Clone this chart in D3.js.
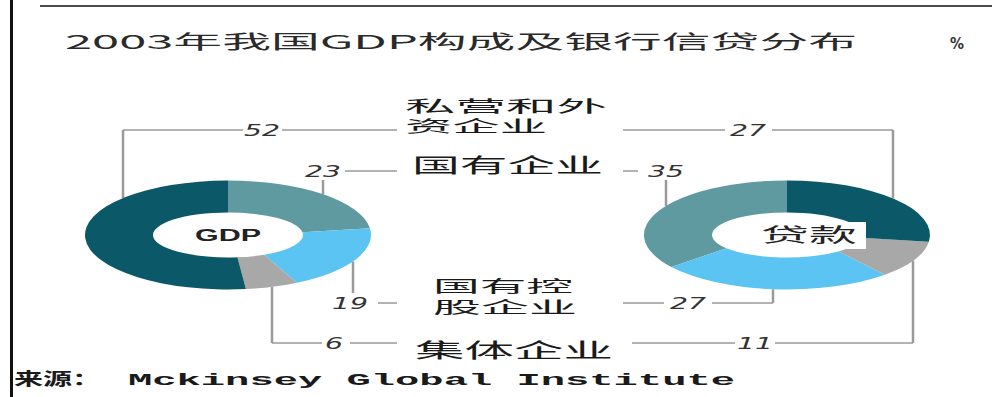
<!DOCTYPE html>
<html>
<head>
<meta charset="utf-8">
<script src="https://cdn.jsdelivr.net/npm/d3@7"></script>
<style>
  html, body { margin: 0; padding: 0; background: #fff; }
  svg { display: block; }
</style>
</head>
<body>
<svg id="chart"></svg>
<script>
;(() => {

    // categories, in clockwise order for the GDP ring
    const categories = ['国有企业', '国有控股企业', '集体企业', '私营和外资企业'];
    // how the category name is broken on the middle labels
    const categoryLines = [['国有企业'], ['国有控', '股企业'], ['集体企业'], ['私营和外', '资企业']];
    const gdpValues = [23, 19, 6, 52];
    const loanValues = [35, 27, 11, 27];
    const colors = ['#5e9aa0', '#5bc4f2', '#a8a8a8', '#0b5868'];

    const titleText = '2003年我国GDP构成及银行信贷分布';
    const unitText = '%';
    const sourceLabel = '来源：';
    const sourceName = 'Mckinsey  Global Institute';

    const width = 992;
    const height = 397;
    const lineColor = '#9a9a9a';
    const cjk = '"Noto Sans CJK SC", "Noto Sans", sans-serif';

    // ring geometry (the picture is stretched sideways, so the rings are ellipses)
    const ring = { rxo: 143, ryo: 54.5, rxi: 75, ryi: 22.5 };
    const gdpCenter = [228, 235];
    const loanCenter = [787, 235];

    // y of each category's row of connectors
    const rowY = [171, 303, 343, 130];
    // middle labels: left x, line centres, widths
    const midLabels = [
        { x: 412, cy: [165], w: [191] },
        { x: 433, cy: [286, 307], w: [140, 144] },
        { x: 405, cy: [106, 126], w: [202, 142] }
    ];
    midLabels.splice(2, 0, { x: 415, cy: [350], w: [198] });
    const midLeft = 397;
    const midRight = 623;

    const svg = d3.select('#chart')
        .attr('width', width)
        .attr('height', height);

    // frame lines
    svg.append('line')
        .attr('x1', 11.5).attr('x2', 11.5).attr('y1', 0).attr('y2', height)
        .attr('stroke', '#111').attr('stroke-width', 3);
    svg.append('line')
        .attr('x1', 40).attr('x2', width).attr('y1', 6).attr('y2', 6)
        .attr('stroke', '#111').attr('stroke-width', 1.6);

    // stretched text helper: font size sets height, textLength sets width
    function stretchedText(txt, x, baseline, size, len, opts) {
        opts = opts || {};
        return svg.append('text')
            .attr('x', x)
            .attr('y', baseline)
            .attr('font-family', opts.family || cjk)
            .attr('font-size', size)
            .attr('font-weight', opts.weight || 'normal')
            .attr('font-style', opts.style || 'normal')
            .attr('fill', opts.fill || '#1a1a1a')
            .attr('textLength', len)
            .attr('lengthAdjust', 'spacingAndGlyphs')
            .attr('text-anchor', opts.anchor || 'start')
            .text(txt);
    }

    stretchedText(titleText, 65, 49, 19, 792, { fill: '#2a2a2a' });
    stretchedText(unitText, 950, 49, 15, 14, { family: '"DejaVu Sans", sans-serif', weight: 'bold', fill: '#333' });
    stretchedText(sourceLabel, 14, 385, 17, 87, { weight: 'bold' });
    stretchedText(sourceName, 128, 385, 17, 607,
        { family: '"Liberation Mono", monospace', weight: 'bold' });

    // elliptical ring slice from pie angles
    function slicePath(d) {
        const a0 = d.startAngle, a1 = d.endAngle;
        const large = Math.abs(a1 - a0) > Math.PI ? 1 : 0;
        const sweep = a1 > a0 ? 1 : 0;
        const pt = (rx, ry, a) => [rx * Math.sin(a), -ry * Math.cos(a)];
        const o0 = pt(ring.rxo, ring.ryo, a0), o1 = pt(ring.rxo, ring.ryo, a1);
        const i0 = pt(ring.rxi, ring.ryi, a0), i1 = pt(ring.rxi, ring.ryi, a1);
        return 'M' + o0 + 'A' + ring.rxo + ',' + ring.ryo + ' 0 ' + large + ' ' + sweep + ' ' + o1 +
            'L' + i1 + 'A' + ring.rxi + ',' + ring.ryi + ' 0 ' + large + ' ' + (1 - sweep) + ' ' + i0 + 'Z';
    }

    // y of the ring's outer edge at a given x offset (top or bottom)
    function edgeY(center, dx, side) {
        const t = Math.max(0, 1 - (dx / ring.rxo) * (dx / ring.rxo));
        return center[1] + side * ring.ryo * Math.sqrt(t);
    }

    function drawRing(values, center, endAngle) {
        const pie = d3.pie().sort(null).startAngle(0).endAngle(endAngle);
        const g = svg.append('g')
            .attr('transform', 'translate(' + center[0] + ',' + center[1] + ')');
        g.selectAll('path')
            .data(pie(values))
            .enter()
            .append('path')
            .attr('d', slicePath)
            .attr('fill', (d, i) => colors[i]);
        return g;
    }

    function hline(x1, x2, y) {
        svg.append('line')
            .attr('x1', x1).attr('x2', x2).attr('y1', y).attr('y2', y)
            .attr('stroke', lineColor).attr('stroke-width', 1.5);
    }
    function vline(x, y1, y2) {
        svg.append('line')
            .attr('x1', x).attr('x2', x).attr('y1', y1).attr('y2', y2)
            .attr('stroke', lineColor).attr('stroke-width', 2.5);
    }
    function numLabel(v, cx, cy) {
        const s = String(v);
        stretchedText(s, cx, cy + 5.5, 15, 18 * s.length,
            { family: '"DejaVu Sans", sans-serif', style: 'italic', anchor: 'middle', fill: '#333' });
    }

    // connectors drawn behind the rings
    // GDP side
    // 私营和外资企业: elbow up from the ring, number on the row
    {
        const i = 3, x = gdpCenter[0] - 105, y = rowY[i];
        vline(x, y, edgeY(gdpCenter, -105, -1));
        hline(x, 243, y); numLabel(gdpValues[i], 262, y); hline(282, midLeft, y);
    }
    // 国有企业: number sits on a short tick
    {
        const i = 0, x = gdpCenter[0] + 95, y = rowY[i];
        vline(x, 180, edgeY(gdpCenter, 95, -1));
        numLabel(gdpValues[i], x, y); hline(345, midLeft, y);
    }
    // 国有控股企业
    {
        const i = 1, x = gdpCenter[0] + 125, y = rowY[i];
        vline(x, edgeY(gdpCenter, 125, 1), 293);
        numLabel(gdpValues[i], 350, y); hline(378, midLeft, y);
    }
    // 集体企业
    {
        const i = 2, x = gdpCenter[0] + 44, y = rowY[i];
        vline(x, edgeY(gdpCenter, 44, 1), y);
        hline(x, 322, y); numLabel(gdpValues[i], 334, y); hline(350, midLeft, y);
    }

    // loan side
    {
        const i = 3, x = loanCenter[0] + 106, y = rowY[i];
        vline(x, y, edgeY(loanCenter, 106, -1));
        hline(midRight, 725, y); numLabel(loanValues[i], 748, y); hline(772, x, y);
    }
    {
        const i = 0, x = loanCenter[0] - 121, y = rowY[i];
        vline(x, 180, edgeY(loanCenter, -121, -1));
        hline(midRight, 638, y); numLabel(loanValues[i], 666, y);
    }
    {
        const i = 1, x = loanCenter[0] - 14, y = rowY[i];
        vline(x, edgeY(loanCenter, -14, 1), y);
        hline(midRight, 664, y); numLabel(loanValues[i], 688, y); hline(712, x, y);
    }
    {
        const i = 2, x = loanCenter[0] + 126, y = rowY[i];
        vline(x, edgeY(loanCenter, 126, 1), y);
        hline(midRight + 9, 735, y); numLabel(loanValues[i], 755, y); hline(775, x, y);
    }

    drawRing(gdpValues, gdpCenter, 2 * Math.PI);
    drawRing(loanValues, loanCenter, -2 * Math.PI);

    // centre labels
    stretchedText('GDP', gdpCenter[0], gdpCenter[1] + 6, 16, 66,
        { family: '"Liberation Sans", Arial, sans-serif', weight: 'bold', anchor: 'middle', fill: '#222' });
    svg.append('rect')
        .attr('x', 760).attr('y', 222).attr('width', 106).attr('height', 27)
        .attr('fill', '#fff');
    stretchedText('贷款', 809, 242, 19, 96, { anchor: 'middle', fill: '#222' });

    // middle category labels
    midLabels.forEach((m, i) => {
        categoryLines[i].forEach((line, j) => {
            const size = categoryLines[i].length > 1 ? 16 : 20;
            stretchedText(line, m.x, m.cy[j] + size * 0.38, size, m.w[j]);
        });
    });

})();
</script>
</body>
</html>
